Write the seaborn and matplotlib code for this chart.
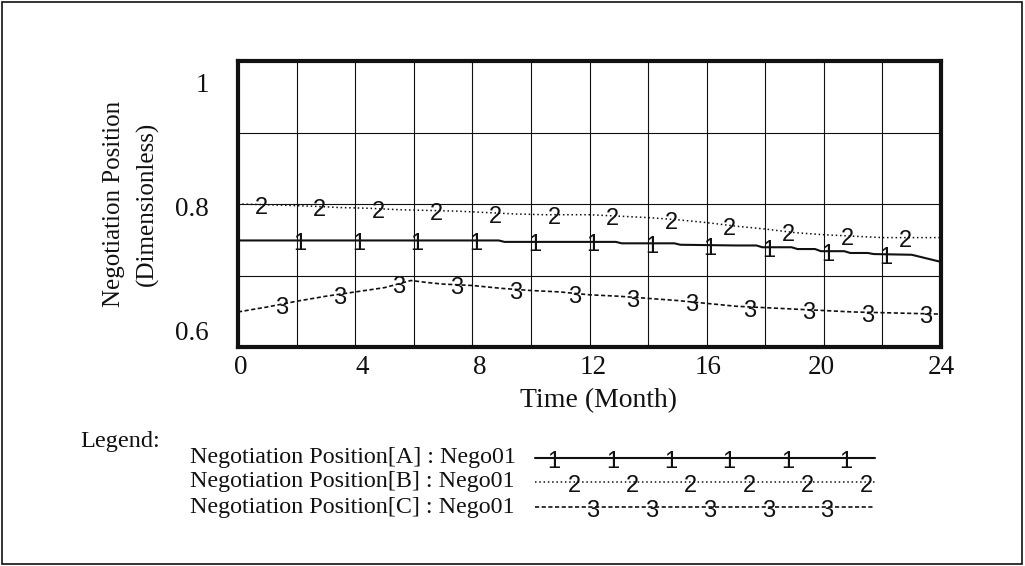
import numpy as np
import pandas as pd
import matplotlib
matplotlib.use("Agg")
import matplotlib.pyplot as plt
import matplotlib.transforms as mtransforms
from matplotlib.patches import Rectangle
import seaborn as sns

# ---- Simulation output: negotiation position per party, run "Nego01" ----
time_a = [0, 8.9, 9.1, 12.9, 13.1, 14.9, 15.1, 17.0, 17.7, 17.9, 18.9, 19.1,
          19.7, 19.9, 20.7, 20.9, 21.5, 21.7, 23.0, 24]
pos_a = [0.749, 0.749, 0.747, 0.747, 0.745, 0.745, 0.743, 0.742, 0.742, 0.7395,
         0.7395, 0.737, 0.737, 0.734, 0.734, 0.7315, 0.7315, 0.730, 0.729, 0.719]

time_b = [0, 1, 2.5, 3.5, 4.5, 5.5, 7.5, 8.5, 9.5, 10.5, 12, 13, 14, 15, 16,
          17, 18, 19, 20, 21, 22, 24]
pos_b = [0.800, 0.799, 0.797, 0.795, 0.794, 0.792, 0.790, 0.788, 0.786, 0.785,
         0.785, 0.783, 0.781, 0.778, 0.774, 0.769, 0.765, 0.760, 0.757, 0.755,
         0.753, 0.753]

time_c = [0, 1, 2, 3, 4, 5, 5.9, 6.5, 7, 8, 9, 10, 11, 12, 13, 14, 15, 16, 17,
          18, 19, 20, 21, 22, 23, 24]
pos_c = [0.649, 0.656, 0.664, 0.671, 0.677, 0.683, 0.693, 0.690, 0.688, 0.686,
         0.682, 0.679, 0.677, 0.673, 0.671, 0.668, 0.665, 0.661, 0.657, 0.655,
         0.653, 0.651, 0.649, 0.648, 0.647, 0.646]

series_labels = ["Negotiation Position[A] : Nego01",
                 "Negotiation Position[B] : Nego01",
                 "Negotiation Position[C] : Nego01"]
series_digits = ["1", "2", "3"]

x_ticks = [0, 4, 8, 12, 16, 20, 24]
y_ticks = [0.6, 0.8, 1.0]
y_tick_labels = ["0.6", "0.8", "1"]

x_title = "Time (Month)"
y_title = "Negotiation Position\n(Dimensionless)"

# ---- styling ----
sns.set_style("white")
plt.rcParams["font.family"] = ["Liberation Serif", "DejaVu Serif"]

INK = "#111111"
line_styles = [
    dict(linestyle="-", linewidth=1.5),
    dict(linestyle=(0, (1, 1.8)), linewidth=1.1),
    dict(linestyle=(0, (2.5, 1.5)), linewidth=1.2),
]
# where the identifying digits sit along each curve (first position, spacing)
digit_start = [2.12, 0.79, 1.48]
digit_step = 2.0
DIGIT_SIZE = 17
DIGIT_DROP = -6.9  # baseline offset (points) so the digit straddles its line

W, H = 1025, 566
fig = plt.figure(figsize=(W / 100, H / 100), dpi=100)
ax = fig.add_axes([238 / W, 1 - 347 / H, (941 - 238) / W, (347 - 61) / H])

frames = []
for t, v, lab in zip([time_a, time_b, time_c], [pos_a, pos_b, pos_c], series_labels):
    frames.append(pd.DataFrame({"time": t, "position": v, "series": lab}))
data = pd.concat(frames, ignore_index=True)

for lab, style, digit, start in zip(series_labels, line_styles, series_digits, digit_start):
    sub = data[data["series"] == lab]
    sns.lineplot(data=sub, x="time", y="position", ax=ax, color=INK,
                 estimator=None, sort=True, legend=False, **style)
    marks = np.arange(start, 24, digit_step)
    vals = np.interp(marks, sub["time"].to_numpy(), sub["position"].to_numpy())
    for mx, my in zip(marks, vals):
        ax.annotate(digit, (mx, my), xytext=(0, DIGIT_DROP), textcoords="offset points",
                    ha="center", va="baseline", fontsize=DIGIT_SIZE, color=INK,
                    family="Liberation Sans", annotation_clip=False)

ax.set_xlim(0, 24)
ax.set_ylim(0.6, 1.0)
ax.set_xticks(x_ticks)
ax.set_xticks(np.arange(2, 24, 4), minor=True)
ax.set_yticks(y_ticks)
ax.set_yticklabels(y_tick_labels)
ax.set_yticks([0.7, 0.9], minor=True)
ax.grid(True, which="both", color=INK, linewidth=0.8)
ax.tick_params(which="both", length=0)
ax.tick_params(axis="x", labelsize=19.5, pad=6, colors=INK)
ax.tick_params(axis="y", labelsize=19.5, pad=21, colors=INK)
for sp in ax.spines.values():
    sp.set_visible(True)
    sp.set_linewidth(3)
    sp.set_color(INK)

# nudge tick labels to the spots the plotting package uses
for lbl, dx in zip(ax.get_xticklabels(), [2.5, 7.5, 7, 4, 1.5, -2.5, 0]):
    lbl.set_transform(lbl.get_transform() +
                      mtransforms.ScaledTranslation(dx / 100, 0, fig.dpi_scale_trans))
for lbl, dy in zip(ax.get_yticklabels(), [17, -3, -22]):
    lbl.set_transform(lbl.get_transform() +
                      mtransforms.ScaledTranslation(0, dy / 100, fig.dpi_scale_trans))

ax.set_xlabel(x_title, fontsize=20, color=INK)
ax.xaxis.label.set_va("center")
ax.xaxis.set_label_coords((598 - 238) / 703, (347 - 401) / 286)
ax.set_ylabel(y_title, fontsize=18, color=INK)
ax.yaxis.label.set_linespacing(1.6)
ax.yaxis.label.set_va("center")
ax.yaxis.set_label_coords((131 - 238) / 703, 0.5)

# ---- legend block drawn in pixel space ----
lax = fig.add_axes([0, 0, 1, 1], zorder=-1)
lax.set_xlim(0, W)
lax.set_ylim(H, 0)
lax.axis("off")
lax.text(80, 442, "Legend:", fontsize=17.5, ha="left", va="center", color=INK)
row_y = [458, 482, 507]
row_digit_x = [[554 + 58.4 * k for k in range(6)],
               [574 + 58.4 * k for k in range(6)],
               [593 + 58.5 * k for k in range(5)]]
for lab, style, digit, ry, dxs in zip(series_labels, line_styles, series_digits,
                                      row_y, row_digit_x):
    lax.text(190, ry, lab, fontsize=17.3, ha="left", va="center", color=INK)
    lax.plot([535, 875], [ry, ry], color=INK, **style)
    for dx in dxs:
        lax.annotate(digit, (dx, ry), xytext=(0, DIGIT_DROP), textcoords="offset points",
                     ha="center", va="baseline", fontsize=DIGIT_SIZE, color=INK,
                     family="Liberation Sans")

fig.add_artist(Rectangle((0.002, 0.004), 0.995, 0.992, transform=fig.transFigure,
                         fill=False, linewidth=1.2, edgecolor=INK))

fig.savefig("out.png", dpi=100, facecolor="white")
